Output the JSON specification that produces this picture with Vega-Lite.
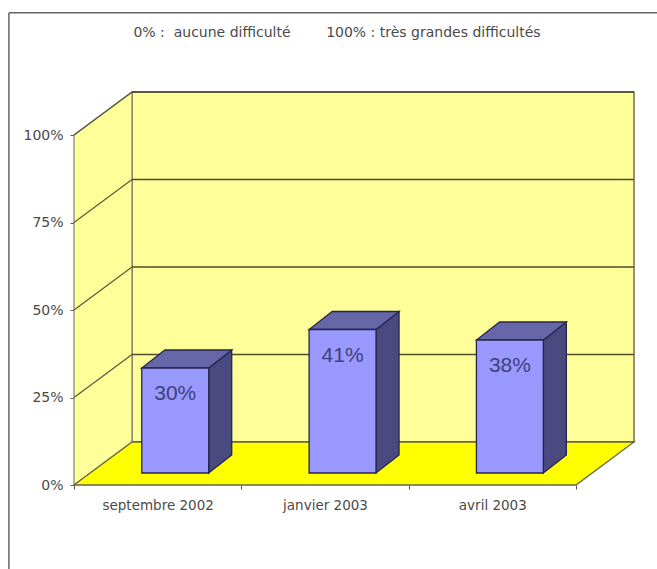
{
  "$schema": "https://vega.github.io/schema/vega-lite/v6.json",
  "autosize": "none",
  "width": 560,
  "height": 393,
  "padding": {"left": 74, "top": 92, "right": 23, "bottom": 84},
  "background": "white",
  "view": {"stroke": null},
  "title": {
    "text": "0% :\u00a0 aucune difficulté \u00a0 \u00a0 \u00a0 \u00a0100% : très grandes difficultés",
    "font": "DejaVu Sans",
    "fontSize": 14,
    "fontWeight": "normal",
    "color": "#4a4a4a",
    "anchor": "middle",
    "dx": -17,
    "offset": -28
  },
  "config": {"font": "DejaVu Sans"},
  "datasets": {
    "mesures": [
      {"periode": "septembre 2002", "valeur": 30},
      {"periode": "janvier 2003", "valeur": 41},
      {"periode": "avril 2003", "valeur": 38}
    ],
    "niveaux": [{"niveau": 25}, {"niveau": 50}, {"niveau": 75}, {"niveau": 100}],
    "profondeur": [{"z": 0}, {"z": 1}]
  },
  "resolve": {"axis": {"x": "independent", "y": "independent"}},
  "layer": [
    {
      "description": "Chart frame: left and top edges",
      "data": {"values": [{}]},
      "mark": {"type": "rule", "stroke": "#666666", "strokeWidth": 1.5},
      "encoding": {
        "x": {"datum": -0.889, "type": "quantitative", "axis": null, "scale": {"domain": [-0.5, 2.8467], "nice": false, "zero": false}},
        "y": {"datum": 134.9, "type": "quantitative", "axis": null, "scale": {"domain": [0, 112.29], "nice": false, "zero": false}},
        "y2": {"datum": -24}
      }
    },
    {
      "data": {"values": [{}]},
      "mark": {"type": "rule", "stroke": "#666666", "strokeWidth": 1.5},
      "encoding": {
        "x": {"datum": -0.889, "type": "quantitative", "axis": null},
        "x2": {"datum": 3.0},
        "y": {"datum": 134.9, "type": "quantitative", "axis": null}
      }
    },
    {
      "description": "Back wall",
      "data": {"values": [{}]},
      "mark": {"type": "rect", "fill": "#ffff99", "stroke": "#5a5a3a", "strokeWidth": 1.3},
      "encoding": {
        "x": {"datum": -0.1533, "type": "quantitative", "axis": null},
        "x2": {"datum": 2.8467},
        "y": {"datum": 12.29, "type": "quantitative", "axis": null},
        "y2": {"datum": 112.29}
      }
    },
    {
      "description": "Left wall, carrying the value axis and the category ticks",
      "data": {"name": "profondeur"},
      "transform": [
        {"calculate": "-0.5 + 0.3467 * datum.z", "as": "xm"},
        {"calculate": "12.29 * datum.z", "as": "bas"},
        {"calculate": "100 + 12.29 * datum.z", "as": "haut"}
      ],
      "mark": {"type": "area", "fill": "#ffff99", "stroke": "#808080", "strokeWidth": 1.2, "orient": "vertical"},
      "encoding": {
        "x": {
          "field": "xm",
          "type": "quantitative",
          "axis": {"orient": "bottom", "values": [-0.5, 0.5, 1.5, 2.5], "labels": false, "domain": false, "grid": false, "ticks": true, "tickSize": 4, "tickColor": "#555555", "title": null}
        },
        "y": {
          "field": "haut",
          "type": "quantitative",
          "axis": {
            "orient": "left",
            "values": [0, 25, 50, 75, 100],
            "labelExpr": "datum.value + '%'",
            "labelFont": "DejaVu Sans",
            "labelFontSize": 14,
            "labelColor": "#4a4a4a",
            "labelPadding": 7,
            "tickSize": 4,
            "tickColor": "#555555",
            "domain": false,
            "grid": false,
            "title": null
          }
        },
        "y2": {"field": "bas"}
      }
    },
    {
      "description": "Floor, carrying the period labels",
      "data": {"name": "profondeur"},
      "transform": [
        {"calculate": "12.29 * datum.z", "as": "ym"},
        {"calculate": "-0.5 + 0.3467 * datum.z", "as": "gauche"},
        {"calculate": "2.5 + 0.3467 * datum.z", "as": "droite"}
      ],
      "mark": {"type": "area", "orient": "horizontal", "fill": "#ffff00", "stroke": "#666644", "strokeWidth": 1.3},
      "encoding": {
        "y": {"field": "ym", "type": "quantitative", "axis": null},
        "x": {
          "field": "gauche",
          "type": "quantitative",
          "axis": {
            "orient": "bottom",
            "values": [0, 1, 2],
            "labelExpr": "['septembre 2002', 'janvier 2003', 'avril 2003'][datum.value]",
            "labelFont": "DejaVu Sans",
            "labelFontSize": 13.5,
            "labelColor": "#4a4a4a",
            "labelPadding": 13,
            "labelOverlap": false,
            "ticks": false,
            "domain": false,
            "grid": false,
            "title": null
          }
        },
        "x2": {"field": "droite"}
      }
    },
    {
      "description": "Gridlines on the back wall",
      "data": {"name": "niveaux"},
      "transform": [{"calculate": "datum.niveau + 12.29", "as": "yFond"}],
      "mark": {"type": "rule", "stroke": "#4d4d2a", "strokeWidth": 1.3},
      "encoding": {
        "x": {"datum": -0.1533, "type": "quantitative", "axis": null},
        "x2": {"datum": 2.8467},
        "y": {"field": "yFond", "type": "quantitative", "axis": null}
      }
    },
    {
      "description": "Gridlines slanting across the left wall",
      "data": {"name": "niveaux"},
      "transform": [{"calculate": "datum.niveau + 12.29", "as": "yFond"}],
      "mark": {"type": "rule", "stroke": "#5a5a3a", "strokeWidth": 1.2},
      "encoding": {
        "x": {"datum": -0.5, "type": "quantitative", "axis": null},
        "x2": {"datum": -0.1533},
        "y": {"field": "niveau", "type": "quantitative", "axis": null},
        "y2": {"field": "yFond"}
      }
    },
    {
      "description": "Bar sides",
      "data": {"name": "mesures"},
      "transform": [
        {"calculate": "indexof(['septembre 2002', 'janvier 2003', 'avril 2003'], datum.periode)", "as": "pos"},
        {"calculate": "datum.pos + 0.305", "as": "xAvant"},
        {"calculate": "datum.pos + 0.4425", "as": "xArriere"},
        {"fold": ["xAvant", "xArriere"], "as": ["arete", "xArete"]},
        {"calculate": "datum.arete === 'xAvant' ? 3.43 : 8.57", "as": "socle"},
        {"calculate": "datum.valeur + datum.socle", "as": "sommet"}
      ],
      "mark": {"type": "area", "orient": "vertical", "fill": "#4a4a80", "stroke": "#26264d", "strokeWidth": 1.3},
      "encoding": {
        "x": {"field": "xArete", "type": "quantitative", "axis": null},
        "y": {"field": "sommet", "type": "quantitative", "axis": null},
        "y2": {"field": "socle"},
        "detail": {"field": "periode"}
      }
    },
    {
      "description": "Bar tops",
      "data": {"name": "mesures"},
      "transform": [
        {"calculate": "indexof(['septembre 2002', 'janvier 2003', 'avril 2003'], datum.periode)", "as": "pos"},
        {"calculate": "datum.valeur + 3.43", "as": "nAvant"},
        {"calculate": "datum.valeur + 8.57", "as": "nArriere"},
        {"fold": ["nAvant", "nArriere"], "as": ["arete", "yArete"]},
        {"calculate": "datum.pos - 0.095 + (datum.arete === 'nAvant' ? 0 : 0.1375)", "as": "gauche"},
        {"calculate": "datum.pos + 0.305 + (datum.arete === 'nAvant' ? 0 : 0.1375)", "as": "droite"}
      ],
      "mark": {"type": "area", "orient": "horizontal", "fill": "#6666a8", "stroke": "#26264d", "strokeWidth": 1.3},
      "encoding": {
        "y": {"field": "yArete", "type": "quantitative", "axis": null},
        "x": {"field": "gauche", "type": "quantitative", "axis": null},
        "x2": {"field": "droite"},
        "detail": {"field": "periode"}
      }
    },
    {
      "description": "Bar fronts",
      "data": {"name": "mesures"},
      "transform": [
        {"calculate": "indexof(['septembre 2002', 'janvier 2003', 'avril 2003'], datum.periode)", "as": "pos"},
        {"calculate": "datum.pos - 0.095", "as": "gauche"},
        {"calculate": "datum.pos + 0.305", "as": "droite"},
        {"calculate": "datum.valeur + 3.43", "as": "sommet"}
      ],
      "mark": {"type": "rect", "fill": "#9999ff", "stroke": "#26264d", "strokeWidth": 1.3},
      "encoding": {
        "x": {"field": "gauche", "type": "quantitative", "axis": null},
        "x2": {"field": "droite"},
        "y": {"field": "sommet", "type": "quantitative", "axis": null},
        "y2": {"datum": 3.43}
      }
    },
    {
      "description": "Value labels on the bar fronts",
      "data": {"name": "mesures"},
      "transform": [
        {"calculate": "indexof(['septembre 2002', 'janvier 2003', 'avril 2003'], datum.periode) + 0.105", "as": "milieu"},
        {"calculate": "datum.valeur + 3.43", "as": "sommet"},
        {"calculate": "datum.valeur + '%'", "as": "etiquette"}
      ],
      "mark": {"type": "text", "font": "Liberation Sans", "fontSize": 21, "color": "#40407a", "dy": 26, "align": "center", "baseline": "middle"},
      "encoding": {
        "x": {"field": "milieu", "type": "quantitative", "axis": null},
        "y": {"field": "sommet", "type": "quantitative", "axis": null},
        "text": {"field": "etiquette"}
      }
    }
  ]
}
